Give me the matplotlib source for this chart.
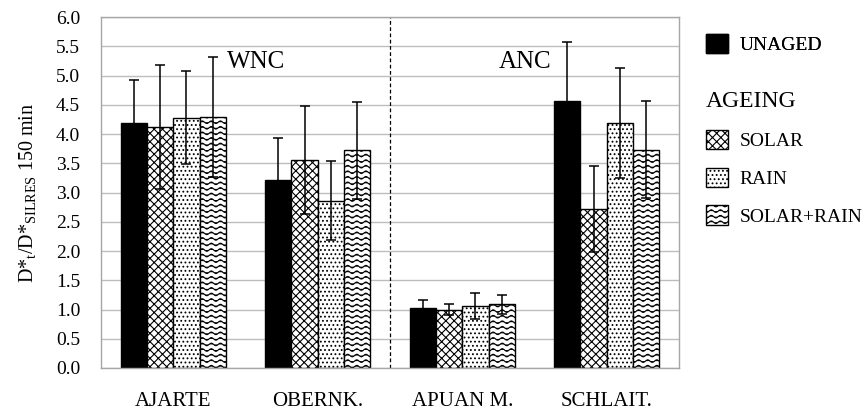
import warnings
import numpy as np
import matplotlib
matplotlib.use("Agg")
import matplotlib.pyplot as plt
import matplotlib.hatch as mhatch
from matplotlib.patches import Patch

warnings.filterwarnings("ignore")

categories = ["AJARTE", "OBERNK.", "APUAN M.", "SCHLAIT."]
series_names = ["UNAGED", "SOLAR", "RAIN", "SOLAR+RAIN"]
unaged = [4.18, 3.22, 1.02, 4.57]
unaged_err = [0.74, 0.72, 0.15, 1.01]
solar = [4.12, 3.56, 1.00, 2.72]
solar_err = [1.06, 0.92, 0.10, 0.73]
rain = [4.28, 2.86, 1.06, 4.19]
rain_err = [0.79, 0.68, 0.22, 0.94]
solar_rain = [4.29, 3.72, 1.09, 3.73]
solar_rain_err = [1.03, 0.83, 0.16, 0.83]
yticks = [0.0, 0.5, 1.0, 1.5, 2.0, 2.5, 3.0, 3.5, 4.0, 4.5, 5.0, 5.5, 6.0]


# wavy hatch ('w'), matplotlib has none built in
class WaveHatch(mhatch.HatchPatternBase):
    def __init__(self, hatch, density):
        self.num_rows = hatch.count("w") * density
        self.n_pts = 97
        self.num_vertices = (self.num_rows + 1) * self.n_pts if self.num_rows else 0

    def set_vertices_and_codes(self, vertices, codes):
        x = np.linspace(0, 1, self.n_pts)
        waves = 11
        amp = 0.013
        i = 0
        for row in range(self.num_rows + 1):
            y0 = row / self.num_rows
            vertices[i:i + self.n_pts, 0] = x
            vertices[i:i + self.n_pts, 1] = y0 + amp * np.sin(2 * np.pi * waves * x)
            codes[i] = mhatch.Path.MOVETO
            codes[i + 1:i + self.n_pts] = mhatch.Path.LINETO
            i += self.n_pts


mhatch._hatch_types.append(WaveHatch)

plt.rcParams["font.family"] = ["Liberation Serif", "DejaVu Serif"]
plt.rcParams["mathtext.default"] = "regular"
plt.rcParams["hatch.linewidth"] = 0.8

fig = plt.figure(figsize=(8.65, 4.12), dpi=100)
ax = fig.add_axes([0.1168, 0.1068, 0.6682, 0.8519])

values = [unaged, solar, rain, solar_rain]
errors = [unaged_err, solar_err, rain_err, solar_rain_err]
faces = ["black", "white", "white", "white"]
hatches = [None, "xxxx", "....", "www"]

x = np.arange(len(categories))
w = 0.182
for k in range(4):
    pos = x + (k - 1.5) * w
    ax.bar(pos, values[k], w, color=faces[k], edgecolor="black", linewidth=1.0,
           hatch=hatches[k], zorder=2)
    ax.errorbar(pos, values[k], yerr=errors[k], fmt="none", ecolor="black",
                elinewidth=1.1, capsize=3.5, capthick=1.1, zorder=3)

ax.axvline(1.5, color="black", linestyle=(0, (3, 2)), linewidth=0.9, zorder=1)

ax.text(0.37, 5.23, "WNC", fontsize=18, va="center", ha="left")
ax.text(2.25, 5.23, "ANC", fontsize=18, va="center", ha="left")

ax.set_xlim(-0.5, 3.5)
ax.set_ylim(0, 6.0)
ax.set_yticks(yticks)
ax.set_yticklabels([f"{v:.1f}" for v in yticks])
ax.set_xticks(x)
ax.set_xticklabels(categories, fontsize=15)
ax.tick_params(axis="both", length=0)
ax.tick_params(axis="y", labelsize=14, pad=15)
ax.tick_params(axis="x", pad=17)
ax.yaxis.grid(True, color="#bdbdbd", linewidth=1.0, zorder=0)
ax.set_axisbelow(True)
for s in ax.spines.values():
    s.set_color("#a6a6a6")
    s.set_linewidth(1.0)

ax.set_ylabel(r"D*$_t$/D*$_{SILRES}$ 150 min", fontsize=14.5, labelpad=13)

h0 = [Patch(facecolor="black", edgecolor="black", label=series_names[0])]
leg1 = fig.legend(handles=h0, loc="upper left", bbox_to_anchor=(0.816, 0.917),
                  frameon=False, fontsize=14, handlelength=1.15, handleheight=1.15,
                  handletextpad=0.6, borderaxespad=0, borderpad=0)
fig.add_artist(leg1)
h1 = [Patch(facecolor="white", edgecolor="black", hatch=hatches[k], label=series_names[k])
      for k in range(1, 4)]
leg2 = fig.legend(handles=h1, loc="upper left", bbox_to_anchor=(0.816, 0.778),
                  frameon=False, fontsize=14, title="AGEING", title_fontsize=17,
                  alignment="left", handlelength=1.15, handleheight=1.15,
                  handletextpad=0.6, labelspacing=0.9, borderaxespad=0, borderpad=0)

fig.savefig("out.png", dpi=100)
